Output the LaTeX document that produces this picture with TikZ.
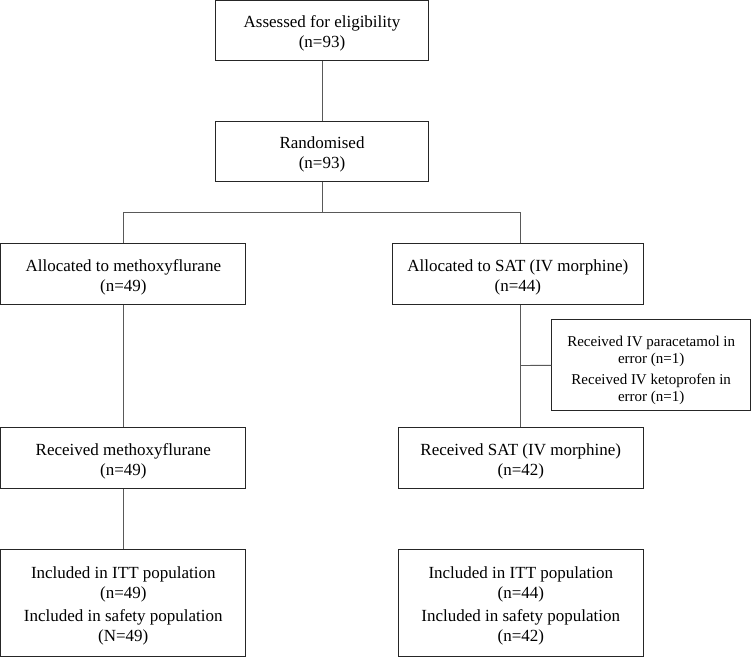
\documentclass[tikz,border=0pt]{standalone}
\usepackage{fontspec}
\setmainfont{Liberation Serif}
\newcommand\topst{\rule{0pt}{18pt}}
\newcommand\sidest{\rule{0pt}{20.5pt}}
\begin{document}
\begin{tikzpicture}[x=1pt,y=-1pt,
  box/.style={draw=black!85, line width=0.9pt, inner sep=0pt, align=center,
    font=\fontsize{17}{20}\selectfont},
  sidebox/.style={draw=black!85, line width=0.9pt, inner sep=0pt, align=center,
    font=\fontsize{15}{17}\selectfont},
  conn/.style={draw=black!65, line width=0.9pt}]
\useasboundingbox (0,0) rectangle (751,657);
\node[box, minimum width=213pt, minimum height=60pt] (A) at (322,30.8) {\topst Assessed for eligibility\\(n=93)};
\node[box, minimum width=213pt, minimum height=60pt] (R) at (322,151.5) {\topst Randomised\\(n=93)};
\node[box, minimum width=245pt, minimum height=61pt] (L1) at (123.3,273.8) {\topst Allocated to methoxyflurane\\(n=49)};
\node[box, minimum width=251pt, minimum height=61pt] (R1) at (517.8,273.8) {\topst Allocated to SAT (IV morphine)\\(n=44)};
\node[sidebox, minimum width=198.6pt, minimum height=91pt] (S) at (651.2,365.3) {\sidest Received IV paracetamol in\\error (n=1)\\[4pt]Received IV ketoprofen in\\error (n=1)};
\node[box, minimum width=245pt, minimum height=61pt] (L2) at (123.3,457.8) {\topst Received methoxyflurane\\(n=49)};
\node[box, minimum width=245pt, minimum height=61pt] (R2) at (520.8,457.8) {\topst Received SAT (IV morphine)\\(n=42)};
\node[box, minimum width=245pt, minimum height=106.5pt] (L3) at (123.3,602.8) {\topst Included in ITT population\\(n=49)\\[3.3pt]Included in safety population\\(N=49)};
\node[box, minimum width=245pt, minimum height=106.5pt] (R3) at (520.8,602.8) {\topst Included in ITT population\\(n=44)\\[3.3pt]Included in safety population\\(n=42)};
\coordinate (bar) at (322,212.7);
\coordinate (barL) at (123.3,212.7);
\coordinate (barR) at (520.8,212.7);
\coordinate (br) at (520.8,365.5);
\draw[conn] (A.south) -- (R.north);
\draw[conn] (R.south) -- (bar);
\draw[conn] (barL) -- (barR);
\draw[conn] (barL) -- (L1.north);
\draw[conn] (barR) -- (barR |- R1.north);
\draw[conn] (L1.south) -- (L2.north);
\draw[conn] (L2.south) -- (L3.north);
\draw[conn] (barR |- R1.south) -- (R2.north);
\draw[conn] (br) -- (S.west);
\end{tikzpicture}
\end{document}
